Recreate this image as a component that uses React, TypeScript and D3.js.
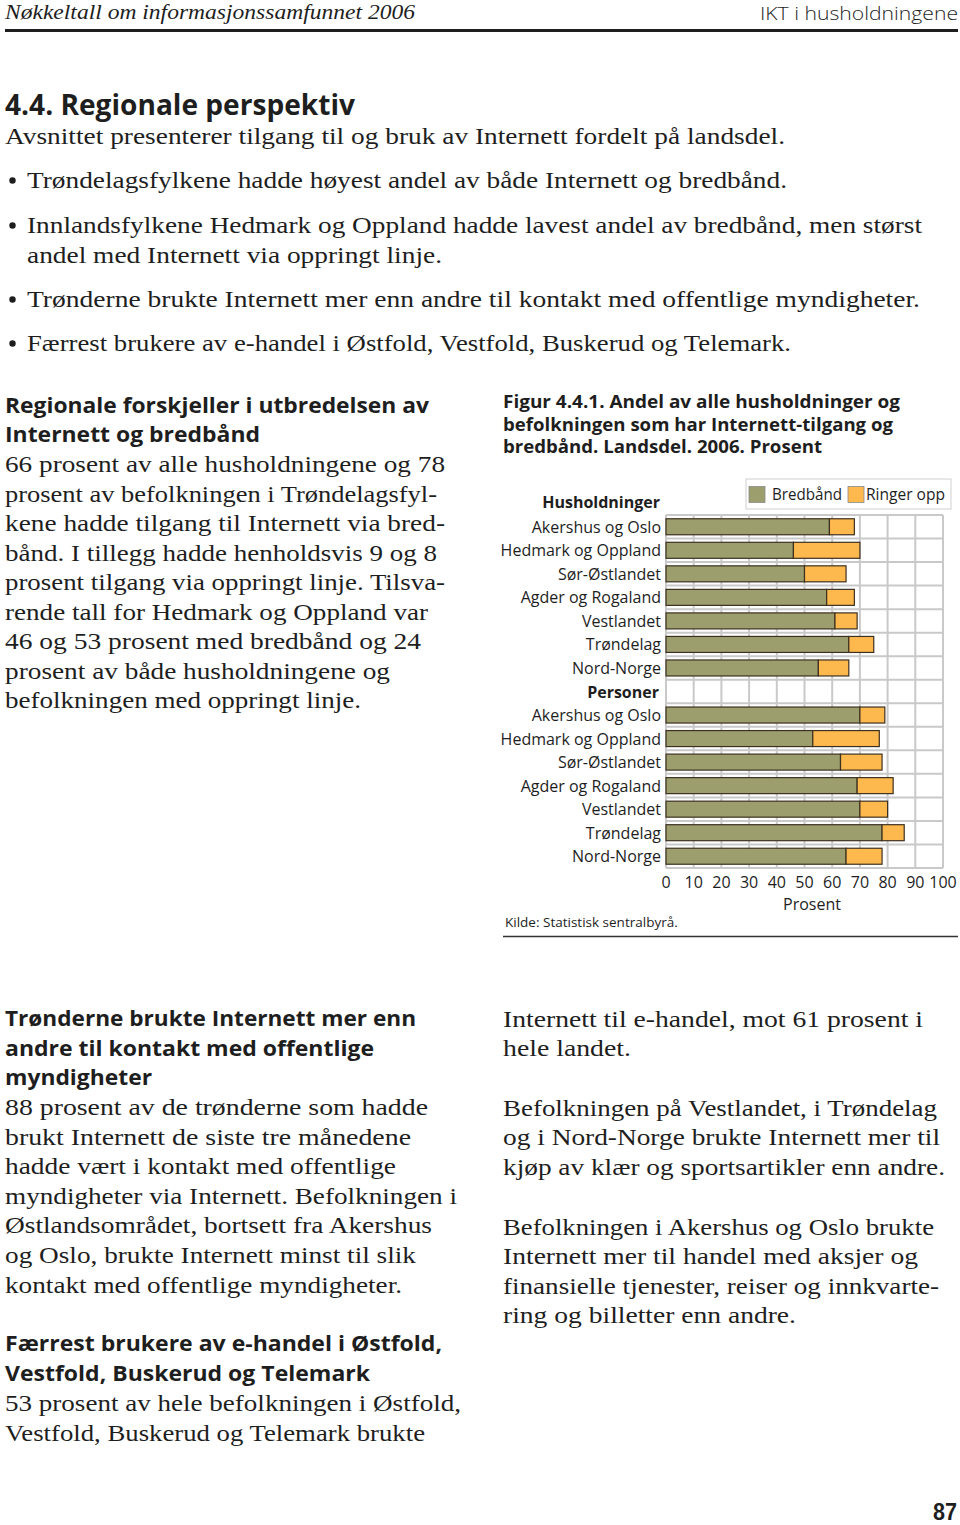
import React from "react";
import * as d3 from "d3";

// ---------- DATA ----------
const categories = [
  "Akershus og Oslo",
  "Hedmark og Oppland",
  "Sør-Østlandet",
  "Agder og Rogaland",
  "Vestlandet",
  "Trøndelag",
  "Nord-Norge",
];
const groupLabels = ["Husholdninger", "Personer"];
const seriesNames = ["Bredbånd", "Ringer opp"];
const bredbandHusholdninger = [59, 46, 50, 58, 61, 66, 55];
const ringerOppHusholdninger = [9, 24, 15, 10, 8, 9, 11];
const bredbandPersoner = [70, 53, 63, 69, 70, 78, 65];
const ringerOppPersoner = [9, 24, 15, 13, 10, 8, 13];
const xTicks = [0, 10, 20, 30, 40, 50, 60, 70, 80, 90, 100];
const axisTitle = "Prosent";
const sourceText = "Kilde: Statistisk sentralbyrå.";
const figureTitle = [
  "Figur 4.4.1. Andel av alle husholdninger og",
  "befolkningen som har Internett-tilgang og",
  "bredbånd. Landsdel. 2006. Prosent",
];

// ---------- STYLE ----------
const SERIF = "'Liberation Serif', 'DejaVu Serif', serif";
const SANS = "'Open Sans', 'Noto Sans', sans-serif";
const GREEN = "#9c9f6d";
const ORANGE = "#fdb94e";
const BAR_STROKE = "#3d3020";
const GRID = "#c9c9c9";
const INK = "#1e1e1e";

type Line = { t: string; x: number; y: number; w: number };

const bodyTop: Line[] = [
  { t: "Avsnittet presenterer tilgang til og bruk av Internett fordelt på landsdel.", x: 5, y: 144, w: 780 },
];
const bullets: Line[] = [
  { t: "Trøndelagsfylkene hadde høyest andel av både Internett og bredbånd.", x: 27, y: 188, w: 760 },
  { t: "Innlandsfylkene Hedmark og Oppland hadde lavest andel av bredbånd, men størst", x: 27, y: 233, w: 895 },
  { t: "Trønderne brukte Internett mer enn andre til kontakt med offentlige myndigheter.", x: 27, y: 307, w: 893 },
  { t: "Færrest brukere av e-handel i Østfold, Vestfold, Buskerud og Telemark.", x: 27, y: 351, w: 764 },
];
const bulletCont: Line[] = [
  { t: "andel med Internett via oppringt linje.", x: 27, y: 263, w: 415 },
];
const headingsSans: Line[] = [
  { t: "Regionale forskjeller i utbredelsen av", x: 5, y: 413, w: 424 },
  { t: "Internett og bredbånd", x: 5, y: 442, w: 255 },
  { t: "Trønderne brukte Internett mer enn", x: 5, y: 1026, w: 411 },
  { t: "andre til kontakt med offentlige", x: 5, y: 1055.5, w: 369 },
  { t: "myndigheter", x: 5, y: 1085, w: 147 },
  { t: "Færrest brukere av e-handel i Østfold,", x: 5, y: 1351, w: 437 },
  { t: "Vestfold, Buskerud og Telemark", x: 5, y: 1381, w: 365 },
];
const bodyLines: Line[] = [
  { t: "66 prosent av alle husholdningene og 78", x: 5, y: 472, w: 440 },
  { t: "prosent av befolkningen i Trøndelagsfyl-", x: 5, y: 501.5, w: 432 },
  { t: "kene hadde tilgang til Internett via bred-", x: 5, y: 531, w: 440 },
  { t: "bånd. I tillegg hadde henholdsvis 9 og 8", x: 5, y: 560.5, w: 432 },
  { t: "prosent tilgang via oppringt linje. Tilsva-", x: 5, y: 590, w: 440 },
  { t: "rende tall for Hedmark og Oppland var", x: 5, y: 619.5, w: 423 },
  { t: "46 og 53 prosent med bredbånd og 24", x: 5, y: 649, w: 416 },
  { t: "prosent av både husholdningene og", x: 5, y: 678.5, w: 385 },
  { t: "befolkningen med oppringt linje.", x: 5, y: 708, w: 356 },
  { t: "88 prosent av de trønderne som hadde", x: 5, y: 1115, w: 423 },
  { t: "brukt Internett de siste tre månedene", x: 5, y: 1144.5, w: 406 },
  { t: "hadde vært i kontakt med offentlige", x: 5, y: 1174, w: 391 },
  { t: "myndigheter via Internett. Befolkningen i", x: 5, y: 1204, w: 452 },
  { t: "Østlandsområdet, bortsett fra Akershus", x: 5, y: 1233, w: 427 },
  { t: "og Oslo, brukte Internett minst til slik", x: 5, y: 1263, w: 411 },
  { t: "kontakt med offentlige myndigheter.", x: 5, y: 1293, w: 397 },
  { t: "53 prosent av hele befolkningen i Østfold,", x: 5, y: 1411, w: 456 },
  { t: "Vestfold, Buskerud og Telemark brukte", x: 5, y: 1441, w: 420 },
  { t: "Internett til e-handel, mot 61 prosent i", x: 503, y: 1027, w: 420 },
  { t: "hele landet.", x: 503, y: 1056, w: 128 },
  { t: "Befolkningen på Vestlandet, i Trøndelag", x: 503, y: 1116, w: 434 },
  { t: "og i Nord-Norge brukte Internett mer til", x: 503, y: 1145, w: 437 },
  { t: "kjøp av klær og sportsartikler enn andre.", x: 503, y: 1175, w: 442 },
  { t: "Befolkningen i Akershus og Oslo brukte", x: 503, y: 1235, w: 431 },
  { t: "Internett mer til handel med aksjer og", x: 503, y: 1264, w: 415 },
  { t: "finansielle tjenester, reiser og innkvarte-", x: 503, y: 1294, w: 436 },
  { t: "ring og billetter enn andre.", x: 503, y: 1323, w: 293 },
];

const FitText = ({ l, family, size, weight, style }: { l: Line; family: string; size: number; weight?: number | string; style?: string }) => (
  <text
    x={l.x}
    y={l.y}
    fontFamily={family}
    fontSize={size}
    fontWeight={weight}
    fontStyle={style}
    fill={INK}
    textLength={l.w}
    lengthAdjust="spacingAndGlyphs"
  >
    {l.t}
  </text>
);

export default function App() {
  // chart geometry
  const plotLeft = 666;
  const plotRight = 943;
  const plotTop = 515;
  const plotBottom = 868;

  const x = d3.scaleLinear().domain([0, 100]).range([plotLeft, plotRight]);

  type Row = { key: string; label: string; header: boolean; b: number; r: number };
  const rows: Row[] = [
    ...categories.map((c, i) => ({ key: "H" + i, label: c, header: false, b: bredbandHusholdninger[i], r: ringerOppHusholdninger[i] })),
    { key: "P", label: groupLabels[1], header: true, b: 0, r: 0 },
    ...categories.map((c, i) => ({ key: "P" + i, label: c, header: false, b: bredbandPersoner[i], r: ringerOppPersoner[i] })),
  ];

  const y = d3
    .scaleBand<string>()
    .domain(rows.map((r) => r.key))
    .range([plotTop, plotBottom])
    .paddingInner(0.32)
    .paddingOuter(0.16);
  const step = y.step();
  const bw = y.bandwidth();

  const stack = d3.stack<Row>().keys(["b", "r"]).value((d, k) => (d as any)[k]);
  const stacked = stack(rows.filter((r) => !r.header));
  const colors = [GREEN, ORANGE];

  return (
    <svg
      width={960}
      height={1525}
      style={{ position: "absolute", left: 0, top: 0, background: "#fff" }}
      xmlns="http://www.w3.org/2000/svg"
    >
      <rect x={0} y={0} width={960} height={1525} fill="#fff" />
      {/* page header */}
      <FitText l={{ t: "Nøkkeltall om informasjonssamfunnet 2006", x: 5, y: 19, w: 410 }} family={SERIF} size={20} style="italic" />
      <FitText l={{ t: "IKT i husholdningene", x: 760, y: 20, w: 198 }} family={SANS} size={18.5} weight={300} />
      <rect x={5} y={29} width={953} height={3} fill={INK} />

      <FitText l={{ t: "4.4. Regionale perspektiv", x: 5, y: 115, w: 350 }} family={SANS} size={28} weight={700} />

      {bodyTop.map((l, i) => (
        <FitText key={"bt" + i} l={l} family={SERIF} size={23} />
      ))}
      {bullets.map((l, i) => (
        <g key={"bu" + i}>
          <circle cx={12.5} cy={l.y - 7.5} r={3.2} fill={INK} />
          <FitText l={l} family={SERIF} size={23} />
        </g>
      ))}
      {bulletCont.map((l, i) => (
        <FitText key={"bc" + i} l={l} family={SERIF} size={23} />
      ))}
      {headingsSans.map((l, i) => (
        <FitText key={"hs" + i} l={l} family={SANS} size={22} weight={700} />
      ))}
      {bodyLines.map((l, i) => (
        <FitText key={"bl" + i} l={l} family={SERIF} size={23} />
      ))}

      {/* figure title */}
      {figureTitle.map((t, i) => (
        <FitText
          key={"ft" + i}
          l={{ t, x: 503, y: 408 + i * 22.5, w: [397, 390, 319][i] }}
          family={SANS}
          size={17.5}
          weight={700}
        />
      ))}

      {/* legend */}
      <rect x={746} y={479} width={205} height={30} fill="#fff" stroke="#cfcfcf" strokeWidth={1} />
      {seriesNames.map((s, i) => {
        const sx = [749, 848][i];
        return (
          <g key={"lg" + i}>
            <rect x={sx} y={486.5} width={16} height={16} fill={colors[i]} stroke="#8a8a8a" strokeWidth={0.8} />
            <FitText l={{ t: s, x: [772, 866][i], y: 499.5, w: [70, 79][i] }} family={SANS} size={16} />
          </g>
        );
      })}

      {/* grid */}
      <g>
        {xTicks.map((t) => (
          <line key={"gx" + t} x1={x(t)} x2={x(t)} y1={plotTop} y2={plotBottom} stroke={GRID} strokeWidth={2} />
        ))}
        {d3.range(rows.length + 1).map((i) => (
          <line
            key={"gy" + i}
            x1={plotLeft}
            x2={plotRight}
            y1={plotTop + i * step}
            y2={plotTop + i * step}
            stroke={GRID}
            strokeWidth={2}
          />
        ))}
      </g>

      {/* bars */}
      {stacked.map((series, si) =>
        series.map((d, di) => (
          <rect
            key={"bar" + si + "-" + di}
            x={x(d[0])}
            y={y(d.data.key)!}
            width={x(d[1]) - x(d[0])}
            height={bw}
            fill={colors[si]}
            stroke={BAR_STROKE}
            strokeWidth={1.2}
          />
        ))
      )}

      {/* row labels */}
      <text
        x={660}
        y={502}
        dominantBaseline="central"
        textAnchor="end"
        fontFamily={SANS}
        fontSize={16}
        fontWeight={700}
        fill={INK}
      >
        {groupLabels[0]}
      </text>
      {rows.map((r) => (
        <text
          key={"lab" + r.key}
          x={r.header ? 659 : 661}
          y={y(r.key)! + bw / 2}
          dominantBaseline="central"
          textAnchor="end"
          fontFamily={SANS}
          fontSize={16}
          fontWeight={r.header ? 700 : 400}
          fill={INK}
        >
          {r.label}
        </text>
      ))}

      {/* x axis */}
      {xTicks.map((t) => (
        <text key={"tx" + t} x={x(t)} y={888} textAnchor="middle" fontFamily={SANS} fontSize={16} fill={INK}>
          {t}
        </text>
      ))}
      <text x={812} y={910} textAnchor="middle" fontFamily={SANS} fontSize={16} fill={INK}>
        {axisTitle}
      </text>
      <text x={505} y={927} fontFamily={SANS} fontSize={13.5} fill={INK}>
        {sourceText}
      </text>
      <line x1={503} x2={958} y1={936.5} y2={936.5} stroke="#333" strokeWidth={1.5} />

      {/* page number */}
      <FitText l={{ t: "87", x: 933, y: 1520, w: 24 }} family="'Liberation Sans', Arial, sans-serif" size={24} weight={700} />
    </svg>
  );
}
